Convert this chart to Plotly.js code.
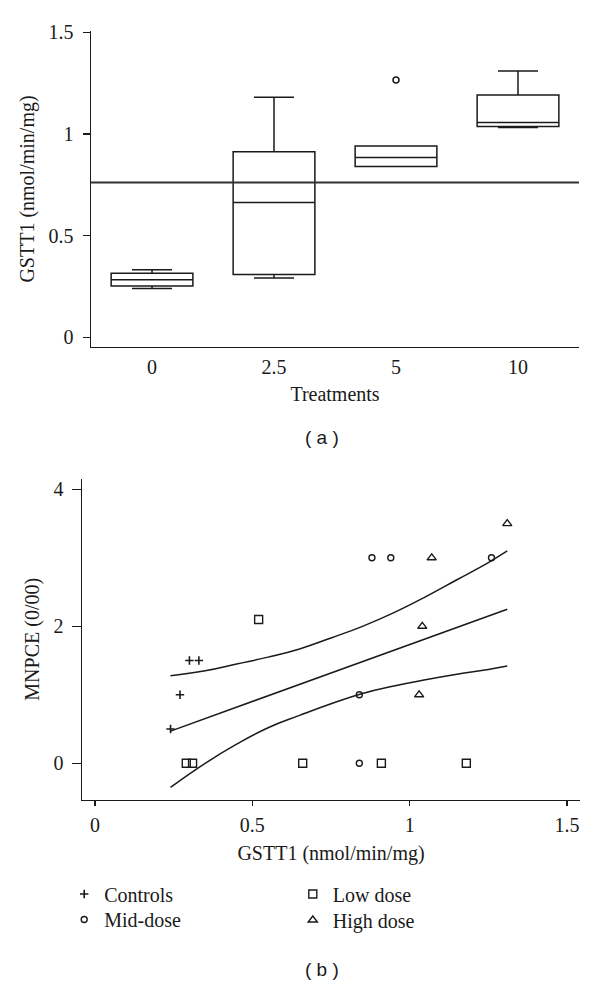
<!DOCTYPE html>
<html>
<head>
<meta charset="utf-8">
<script src="https://cdn.plot.ly/plotly-3.0.1.min.js"></script>
<style>
  html, body { margin: 0; padding: 0; background: #fff; }
  #chart { width: 600px; height: 985px; }
</style>
</head>
<body>
<div id="chart"></div>
<script>
// ---- Panel (a): box plot of GSTT1 by treatment ----
const treatments = ['0', '2.5', '5', '10'];
const boxLowerWhisker = [0.240, 0.292, 0.840, 1.032];
const boxQ1 = [0.253, 0.310, 0.840, 1.037];
const boxMedian = [0.284, 0.663, 0.884, 1.057];
const boxQ3 = [0.315, 0.913, 0.941, 1.191];
const boxUpperWhisker = [0.333, 1.181, 0.941, 1.310];
const outlierTreatment = ['5'];
const outlierValue = [1.265];
const referenceLine = [0.761];

// ---- Panel (b): MNPCE vs GSTT1 scatter ----
const controlsX = [0.24, 0.27, 0.30, 0.33];
const controlsY = [0.5, 1, 1.5, 1.5];
const lowDoseX = [0.29, 0.31, 0.52, 0.66, 0.91, 1.18];
const lowDoseY = [0, 0, 2.1, 0, 0, 0];
const midDoseX = [0.84, 0.84, 0.88, 0.94, 1.26];
const midDoseY = [1, 0, 3, 3, 3];
const highDoseX = [1.03, 1.04, 1.07, 1.31];
const highDoseY = [1, 2, 3, 3.5];

// fitted line and confidence band
const fitX = [0.24, 1.31];
const fitY = [0.47, 2.25];
const bandX = [0.24, 0.35, 0.45, 0.55, 0.65, 0.75, 0.85, 0.95, 1.05, 1.15, 1.25, 1.31];
const bandUpper = [1.28, 1.35, 1.45, 1.55, 1.67, 1.83, 2.00, 2.20, 2.43, 2.68, 2.93, 3.10];
const bandLower = [-0.35, 0.00, 0.28, 0.52, 0.70, 0.87, 1.02, 1.13, 1.22, 1.30, 1.37, 1.42];

const ink = '#1a1a1a';
const serif = 'Liberation Serif, Times New Roman, serif';
const tickFont = { family: serif, size: 20, color: ink };
const titleFont = { family: serif, size: 20, color: ink };
const legendFont = { family: serif, size: 20, color: ink };

const traces = [
  {
    type: 'box', xaxis: 'x', yaxis: 'y',
    x: treatments,
    q1: boxQ1, median: boxMedian, q3: boxQ3,
    lowerfence: boxLowerWhisker, upperfence: boxUpperWhisker,
    boxpoints: false,
    width: 0.67, whiskerwidth: 0.49,
    fillcolor: 'rgba(0,0,0,0)',
    line: { color: ink, width: 1.5 },
    showlegend: false, hoverinfo: 'skip'
  },
  {
    type: 'scatter', mode: 'markers', xaxis: 'x', yaxis: 'y',
    x: outlierTreatment, y: outlierValue,
    marker: { symbol: 'circle-open', size: 6, color: ink, line: { width: 1.5, color: ink } },
    showlegend: false
  },
  // fit lines
  {
    type: 'scatter', mode: 'lines', xaxis: 'x2', yaxis: 'y2',
    x: fitX, y: fitY, line: { color: ink, width: 1.5 }, showlegend: false
  },
  {
    type: 'scatter', mode: 'lines', xaxis: 'x2', yaxis: 'y2',
    x: bandX, y: bandUpper, line: { color: ink, width: 1.5, shape: 'spline', smoothing: 1.3 }, showlegend: false
  },
  {
    type: 'scatter', mode: 'lines', xaxis: 'x2', yaxis: 'y2',
    x: bandX, y: bandLower, line: { color: ink, width: 1.5, shape: 'spline', smoothing: 1.3 }, showlegend: false
  },
  {
    type: 'scatter', mode: 'markers', xaxis: 'x2', yaxis: 'y2', name: 'Controls',
    x: controlsX, y: controlsY, legend: 'legend',
    marker: { symbol: 'cross-thin-open', size: 6, color: ink, line: { width: 1.6, color: ink } }
  },
  {
    type: 'scatter', mode: 'markers', xaxis: 'x2', yaxis: 'y2', name: 'Mid-dose',
    x: midDoseX, y: midDoseY, legend: 'legend3',
    marker: { symbol: 'circle-open', size: 6, color: ink, line: { width: 1.4, color: ink } }
  },
  {
    type: 'scatter', mode: 'markers', xaxis: 'x2', yaxis: 'y2', name: 'Low dose',
    x: lowDoseX, y: lowDoseY, legend: 'legend2',
    marker: { symbol: 'square-open', size: 8, color: ink, line: { width: 1.4, color: ink } }
  },
  {
    type: 'scatter', mode: 'markers', xaxis: 'x2', yaxis: 'y2', name: 'High dose',
    x: highDoseX, y: highDoseY, legend: 'legend4',
    marker: { symbol: 'triangle-up-open', size: 8, color: ink, line: { width: 1.4, color: ink } }
  }
];

const axisCommon = {
  showline: true, linecolor: ink, linewidth: 1.4,
  showgrid: false, zeroline: false, tickcolor: ink, tickwidth: 1.3,
  tickfont: tickFont, fixedrange: true
};

function legendAt(xPaper, yPaper) {
  return {
    x: xPaper, y: yPaper, xanchor: 'left', yanchor: 'middle',
    orientation: 'v', bgcolor: 'rgba(0,0,0,0)', borderwidth: 0,
    font: legendFont, itemwidth: 30, tracegroupgap: 0
  };
}

const layout = {
  width: 600, height: 985,
  margin: { l: 0, r: 0, t: 0, b: 0 },
  paper_bgcolor: '#fff', plot_bgcolor: '#fff',
  showlegend: true,
  xaxis: Object.assign({}, axisCommon, {
    domain: [0.1517, 0.965], anchor: 'y', type: 'category',
    range: [-0.5, 3.5], ticks: '', ticklabelstandoff: 2,
    title: { text: 'Treatments', font: titleFont, standoff: 9 }
  }),
  yaxis: Object.assign({}, axisCommon, {
    domain: [0.6477, 0.9685], anchor: 'x',
    range: [-0.047, 1.506], tick0: 0, dtick: 0.5,
    ticks: 'outside', ticklen: 7, ticklabelstandoff: 5,
    title: { text: 'GSTT1 (nmol/min/mg)', font: titleFont, standoff: 8 }
  }),
  xaxis2: Object.assign({}, axisCommon, {
    domain: [0.1367, 0.9667], anchor: 'y2',
    range: [-0.0413, 1.5413], tick0: 0, dtick: 0.5,
    ticks: 'outside', ticklen: 5, ticklabelstandoff: 2,
    title: { text: 'GSTT1 (nmol/min/mg)', font: titleFont, standoff: 10 }
  }),
  yaxis2: Object.assign({}, axisCommon, {
    domain: [0.1878, 0.5142], anchor: 'x2',
    range: [-0.536, 4.158], tick0: 0, dtick: 2,
    ticks: 'outside', ticklen: 9, ticklabelstandoff: 4,
    title: { text: 'MNPCE (0/00)', font: titleFont, standoff: 8 }
  }),
  shapes: [
    {
      type: 'line', xref: 'x domain', yref: 'y',
      x0: 0, x1: 1, y0: referenceLine[0], y1: referenceLine[0],
      line: { color: '#333', width: 2 }
    }
  ],
  legend: legendAt(0.107, 1 - 894 / 985),
  legend3: legendAt(0.107, 1 - 919.5 / 985),
  legend2: legendAt(0.488, 1 - 894 / 985),
  legend4: legendAt(0.488, 1 - 920 / 985),
  annotations: [
    {
      text: '( a )', xref: 'paper', yref: 'paper', x: 0.5367, y: 1 - 437 / 985,
      showarrow: false, xanchor: 'center', yanchor: 'middle',
      font: { family: 'Liberation Sans, Arial, sans-serif', size: 19, color: ink }
    },
    {
      text: '( b )', xref: 'paper', yref: 'paper', x: 0.5367, y: 1 - 969 / 985,
      showarrow: false, xanchor: 'center', yanchor: 'middle',
      font: { family: 'Liberation Sans, Arial, sans-serif', size: 19, color: ink }
    }
  ]
};

Plotly.newPlot('chart', traces, layout, { staticPlot: true, displayModeBar: false });
</script>
</body>
</html>
